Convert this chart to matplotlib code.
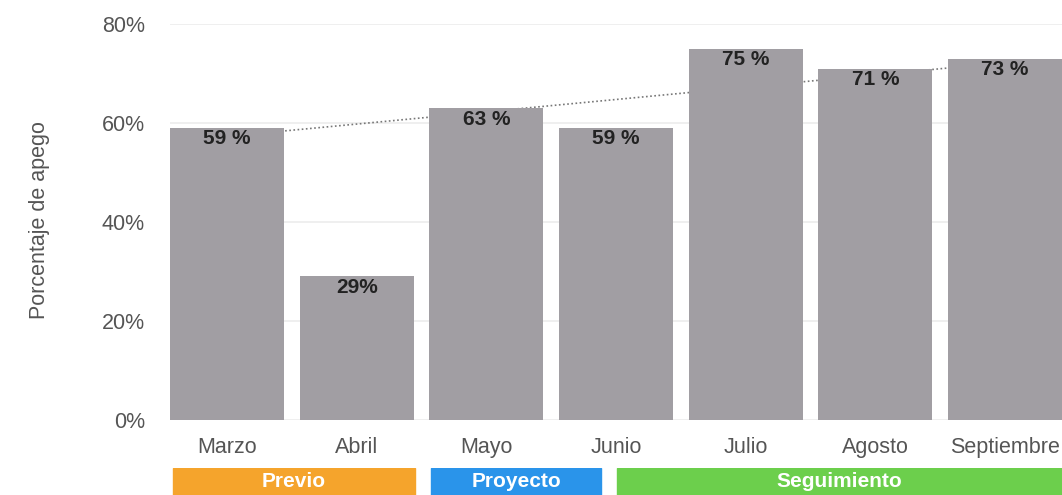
import matplotlib.pyplot as plt
from matplotlib.ticker import PercentFormatter

plt.rcParams['font.family'] = ['Liberation Sans', 'DejaVu Sans']

months = ["Marzo", "Abril", "Mayo", "Junio", "Julio", "Agosto", "Septiembre"]
apego = [59, 29, 63, 59, 75, 71, 73]
value_labels = ["59 %", "29%", "63 %", "59 %", "75 %", "71 %", "73 %"]
# dotted trend line, read at Marzo and Septiembre
trend_x = [0, 6]
trend_y = [57.3, 72.2]
phases = ["Previo", "Proyecto", "Seguimiento"]
phase_start = [-0.42, 1.573, 3.008]
phase_end = [1.45, 2.885, 6.44]
phase_colors = ["#F5A42C", "#2A94EA", "#6CCF4C"]

W, H = 1062, 495
fig = plt.figure(figsize=(W / 100, H / 100), dpi=100)
ax = fig.add_axes([170 / W, (H - 420) / H, (W - 170) / W, 396 / H])

x = range(len(months))
ax.bar(x, apego, width=0.88, color="#A19EA3", zorder=2)
ax.plot(trend_x, trend_y, color="#777777", linestyle=(0, (1, 1.5)), lw=1.2, zorder=1.5)

for i, (v, lab) in enumerate(zip(apego, value_labels)):
    ax.annotate(lab, (i, v), xytext=(0, -1), textcoords="offset points",
                ha="center", va="top", fontsize=15, fontweight="bold", color="#222222", zorder=3)

ax.set_xlim(-0.44, 6.44)
ax.set_ylim(0, 80)
ax.set_yticks([0, 20, 40, 60, 80])
ax.yaxis.set_major_formatter(PercentFormatter(decimals=0))
ax.set_xticks(list(x))
ax.set_xticklabels(months)
ax.tick_params(axis="both", length=0, labelsize=15.5, labelcolor="#555555")
ax.tick_params(axis="x", pad=12)
ax.tick_params(axis="y", pad=18)
ax.grid(axis="y", color="#ececec", lw=1.2, zorder=0)
ax.set_axisbelow(True)
for s in ax.spines.values():
    s.set_visible(False)
ax.set_ylabel("Porcentaje de apego", fontsize=15.5, color="#555555")
ax.yaxis.set_label_coords(-0.134, 0.505)

# phase bands under the month labels
bax = fig.add_axes([170 / W, 0, (W - 170) / W, 27 / H])
bax.set_xlim(ax.get_xlim())
bax.set_ylim(0, 1)
for name, a, b, c in zip(phases, phase_start, phase_end, phase_colors):
    bax.axvspan(a, b, color=c)
    bax.text((a + b) / 2, 0.5, name, ha="center", va="center",
             fontsize=15, fontweight="bold", color="white")
bax.axis("off")

fig.savefig("out.png", dpi=100)
